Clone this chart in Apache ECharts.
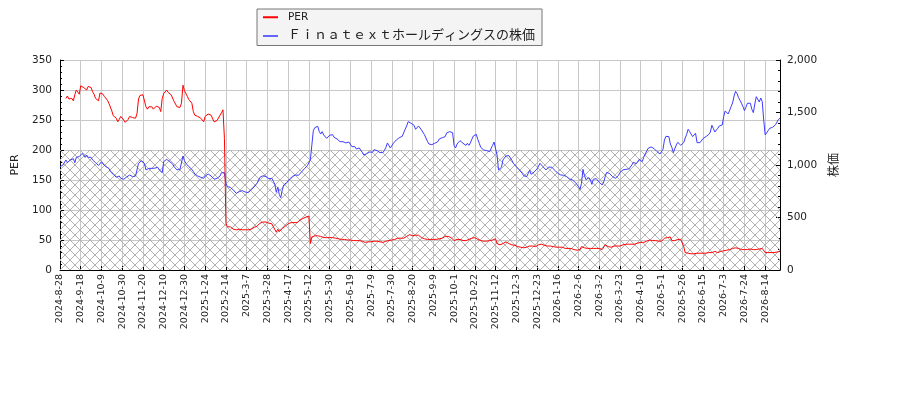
<!DOCTYPE html>
<html>
<head>
<meta charset="utf-8">
<script src="https://cdn.jsdelivr.net/npm/echarts@6/dist/echarts.min.js"></script>
<style>
  html, body { margin: 0; padding: 0; background: #fff; }
  #chart { width: 900px; height: 400px; }
</style>
</head>
<body>
<div id="chart"></div>
<script>
// 日付ラベル（14営業日ごと）
var tickLabels = [
  '2024-8-28', '2024-9-18', '2024-10-9', '2024-10-30', '2024-11-20', '2024-12-10', '2024-12-30',
  '2025-1-24', '2025-2-14', '2025-3-7', '2025-3-28', '2025-4-17', '2025-5-12', '2025-5-30',
  '2025-6-19', '2025-7-9', '2025-7-30', '2025-8-20', '2025-9-9', '2025-10-1', '2025-10-22',
  '2025-11-12', '2025-12-3', '2025-12-23', '2026-1-16', '2026-2-6', '2026-3-2', '2026-3-23',
  '2026-4-10', '2026-5-1', '2026-5-26', '2026-6-15', '2026-7-3', '2026-7-24', '2026-8-14'
];
var tickStep = 14;

var perName = 'PER';
var priceName = 'Ｆｉｎａｔｅｘｔホールディングスの株価';

// PER（左軸）
var per = [
  null, null, null, null, 286, 290, 285, 285, 286, 282,
  292, 300, 297, 293, 307, 308, 304, 302, 300, 306,
  308, 304, 297, 293, 286, 283, 282, 295, 296, 293,
  289, 286, 283, 278, 275, 265, 257, 256, 253, 247,
  251, 256, 253, 250, 246, 249, 251, 256, 257, 254,
  256, 253, 261, 285, 291, 293, 292, 293, 272, 268,
  272, 269, 272, 268, 270, 273, 275, 271, 264, 286,
  294, 297, 300, 296, 293, 292, 289, 281, 278, 272,
  273, 271, 278, 308, 299, 297, 289, 284, 281, 278,
  264, 258, 256, 256, 256, 253, 251, 247, 256, 258,
  260, 259, 258, 256, 247, 250, 249, 250, 258, 262,
  267, 219, 78, 72, 71, 72, 69, 68, 67, 67,
  67, 68, 67,
  67, 66, 67, 66, 67, 68, 68, 69, 71, 72,
  73, 75, 78, 80, 80, 81, 80, 79, 78, 75,
  77, 72, 69, 63, 68, 64, 67, 69, 72, 73,
  75, 77, 78, 79, 79, 79, 79, 79, 81, 83,
  84, 86, 86, 88, 89, 90, 44, 55, 58, 57,
  58, 57, 56, 56, 56, 54, 56, 54, 56, 54,
  54, 54, 53, 53, 52, 52, 52, 51, 51, 51,
  51, 50, 50, 50, 50, 49, 49, 49, 49, 49,
  48, 48, 47, 46, 47, 47, 47, 47, 47, 48,
  48, 48, 48, 47, 47, 46, 47, 48, 49, 49,
  49, 50, 51, 51, 52, 53, 53, 53, 53, 53,
  54, 56, 58, 59, 58, 57, 58, 58, 57, 58,
  57, 54, 53, 52, 50, 51, 50, 51, 51, 51,
  53, 51, 53, 52, 53, 53, 54, 56, 57, 56,
  57, 54, 53, 49, 50, 51, 50, 51, 50, 49,
  50, 49, 51, 51, 52, 53, 53, 54, 53, 51,
  50, 49, 49, 48, 48, 48, 48, 49, 49, 50,
  51, 52, 44, 41, 42, 43, 44, 46, 47, 46,
  44, 43, 42, 42, 41, 40, 39, 39, 38, 38,
  37, 37, 38, 39, 40, 39, 40, 39, 39, 40,
  42, 42, 43, 41, 41, 40, 40, 40, 40, 40,
  39, 38, 38, 38, 38, 38, 38, 37, 36, 36,
  36, 36, 36, 35, 34, 34, 33, 32, 34, 39,
  39, 37, 34, 36, 37, 36, 34, 36, 36, 36, 36,
  36,
  35, 34, 37, 42, 40, 39, 38, 38, 39, 40,
  39, 40, 41, 40, 41, 42, 43, 43, 42, 43,
  44, 43, 42, 43, 44, 45, 46, 46, 45, 46,
  47, 48, 49, 50, 50, 49, 49, 49, 49, 48,
  47, 48, 50, 53, 54, 54, 53, 55, 49, 48,
  49, 51, 51, 51, 51, 50, 39, 29, 29, 28,
  28, 27, 27, 27, 28, 28, 27, 28, 28, 28,
  28, 28, 29, 29, 29, 29, 31, 31, 29, 29,
  31, 31, 31, 32, 32, 33, 33, 34, 34, 36,
  37, 37, 36, 36, 34, 34, 34, 34, 34, 34,
  35, 35, 34, 34, 34, 34, 34, 35, 34, 36,
  33, 29, 29, 29, 29, 29, 29, 29, 29, 30,
  31, 31
];

// 株価（右軸）
var price = [
  984, 968, 1000, 1016, 1048, 1022, 1040, 1048, 1054, 1060,
  1022, 1073, 1064, 1080, 1086, 1111, 1095, 1073, 1095, 1073,
  1064, 1073, 1048, 1041, 1022, 1010, 995, 991, 1032, 1010,
  1000, 984, 968, 968, 937, 921, 910, 895, 883, 889,
  895, 873, 883, 864, 883, 886, 889, 905, 895, 889,
  905, 895, 905, 1016, 1032, 1041, 1022, 1016, 953, 953,
  968, 959, 968, 959, 970, 984, 978, 953, 968, 927,
  1032, 1048, 1054, 1054, 1032, 1041, 1010, 984, 968, 953,
  946, 959, 953, 1086, 1041, 1016, 1000, 984, 984, 959,
  937, 914, 895, 895, 889, 883, 889, 873, 895, 905,
  914, 905, 895, 889, 864, 873, 873, 883, 895, 927,
  921, 927, 826, 794, 787, 787, 768, 762, 756, 730,
  737, 746, 750,
  756, 737, 743, 756, 737, 740, 762, 781, 790, 803,
  826, 857, 883, 902, 898, 889, 889, 889, 870, 857,
  873, 845, 816, 740, 790, 720, 688, 760, 810, 826,
  832, 851, 867, 883, 892, 898, 905, 895, 902, 914,
  933, 950, 965, 978, 994, 1006, 1048, 1191, 1327, 1356,
  1365, 1368, 1318, 1295, 1318, 1286, 1276, 1254, 1270, 1283,
  1302, 1289, 1264, 1276, 1248, 1232, 1222, 1213, 1222, 1207,
  1210, 1216, 1219, 1200, 1175, 1159, 1175, 1152, 1165, 1162,
  1143, 1121, 1095, 1089, 1108, 1118, 1124, 1115, 1121, 1146,
  1152, 1137, 1127, 1118, 1111, 1118, 1140, 1168, 1210, 1191,
  1162, 1178, 1207, 1222, 1238, 1251, 1260, 1267, 1273, 1292,
  1340, 1372, 1413, 1413, 1397, 1410, 1378, 1340, 1346, 1372,
  1372, 1334, 1318, 1289, 1257, 1226, 1200, 1184, 1194, 1200,
  1207, 1213, 1222, 1248, 1248, 1260, 1267, 1270, 1305, 1324,
  1318, 1318, 1308, 1187, 1162, 1200, 1216, 1232, 1219, 1207,
  1222, 1187, 1207, 1187, 1210, 1245, 1276, 1289, 1292, 1245,
  1207, 1168, 1149, 1143, 1140, 1137, 1134, 1127, 1143, 1187,
  1219, 1238, 1095, 953, 943, 978, 1048, 1064, 1086, 1073,
  1089, 1073, 1045, 1016, 997, 984, 975, 953, 937, 921,
  898, 880, 889, 918, 950, 911, 895, 933, 943, 962,
  978, 1016, 1000, 984, 978, 953, 968, 981, 972, 978,
  965, 950, 937, 921, 914, 905, 895, 902, 898, 889,
  876, 867, 870, 857, 857, 832, 813, 794, 768, 826,
  959, 898, 860, 841, 880, 857, 816, 864, 864, 870, 851,
  835,
  819, 810, 838, 889, 930, 927, 918, 905, 889, 880,
  873, 883, 902, 930, 943, 953, 956, 959, 968, 962,
  953, 1000, 1026, 1016, 1013, 1032, 1054, 1048, 1032, 1073,
  1105, 1124, 1159, 1172, 1172, 1165, 1156, 1140, 1127, 1111,
  1105, 1115, 1149, 1238, 1273, 1276, 1270, 1200, 1168, 1118,
  1127, 1191, 1216, 1213, 1188, 1191, 1213, 1257, 1292, 1340,
  1318, 1327, 1270, 1260, 1302, 1213, 1194, 1213, 1232, 1251,
  1238, 1270, 1283, 1292, 1314, 1378, 1349, 1314, 1302, 1349,
  1372, 1365, 1381, 1461, 1515, 1515, 1486, 1505, 1556, 1591,
  1657, 1702, 1680, 1642, 1616, 1588, 1556, 1518, 1550, 1588,
  1588, 1588, 1530, 1499, 1581, 1651, 1638, 1600, 1638, 1603,
  1429, 1286, 1292, 1327, 1349, 1362, 1359, 1372, 1384, 1397,
  1435, 1445
];

// 網掛け範囲（PER 0〜200）
var hatchTop = 200;

var fontFamily = "'DejaVu Sans', 'Noto Sans CJK JP', sans-serif";

function hatchPattern() {
  var c = document.createElement('canvas');
  c.width = 10;
  c.height = 10;
  var ctx = c.getContext('2d');
  ctx.strokeStyle = '#b2b2b2';
  ctx.lineWidth = 1;
  ctx.beginPath();
  ctx.moveTo(0, 0); ctx.lineTo(10, 10);
  ctx.moveTo(10, 0); ctx.lineTo(0, 10);
  ctx.stroke();
  return c;
}

function pairs(arr) {
  return arr.map(function (v, i) { return [i, v]; });
}

var option = {
  animation: false,
  backgroundColor: '#fff',
  textStyle: { fontFamily: fontFamily },
  grid: { left: 60, right: 120, top: 60, bottom: 130, outerBoundsMode: 'none' },
  legend: {
    orient: 'vertical',
    left: 257,
    top: 9,
    backgroundColor: '#f4f4f4',
    borderColor: '#777',
    borderWidth: 1,
    padding: [3, 7, 3, 6],
    itemGap: 7,
    itemWidth: 15,
    itemHeight: 2,
    textStyle: {
      color: '#222',
      fontFamily: fontFamily,
      rich: {
        p: { fontSize: 10.5, lineHeight: 14, padding: [0, 0, 0, 5], fontFamily: fontFamily, color: '#222' },
        j: { fontSize: 13, lineHeight: 14, padding: [0, 0, 0, 5], fontFamily: fontFamily, color: '#222' }
      }
    },
    formatter: function (n) {
      return n === perName ? '{p|' + n + '}' : '{j|' + n + '}';
    },
    data: [
      { name: perName, icon: 'rect', itemStyle: { color: '#ff0000' } },
      { name: priceName, icon: 'rect', itemStyle: { color: '#6464ff' } }
    ]
  },
  xAxis: {
    type: 'value',
    min: 0,
    max: price.length - 1,
    interval: tickStep,
    axisLine: { lineStyle: { color: '#000', width: 1 } },
    axisTick: { inside: true, length: 4, lineStyle: { color: '#000' } },
    axisLabel: {
      rotate: 90,
      margin: 4,
      fontSize: 9.5,
      color: '#222',
      formatter: function (v) {
        var k = v / tickStep;
        return (k % 1 === 0 && tickLabels[k]) ? tickLabels[k] : '';
      }
    },
    splitLine: { show: true, lineStyle: { color: '#c8c8c8', width: 1 } }
  },
  yAxis: [
    {
      type: 'value',
      position: 'left',
      min: 0,
      max: 350,
      interval: 50,
      name: 'PER',
      nameLocation: 'middle',
      nameRotate: 90,
      nameGap: 34,
      nameTextStyle: { fontSize: 11, color: '#222' },
      axisLine: { show: true, lineStyle: { color: '#000', width: 1 } },
      axisTick: { show: true, inside: true, length: 4, lineStyle: { color: '#000' } },
      minorTick: { show: true, splitNumber: 5, length: 2, lineStyle: { color: '#000' } },
      axisLabel: { fontSize: 10.5, color: '#222', margin: 8 },
      splitLine: { show: true, lineStyle: { color: '#c8c8c8', width: 1 } }
    },
    {
      type: 'value',
      position: 'right',
      min: 0,
      max: 2000,
      interval: 500,
      name: '株価',
      nameLocation: 'middle',
      nameRotate: 90,
      nameGap: 49,
      nameTextStyle: { fontSize: 12, color: '#222' },
      axisLine: { show: true, lineStyle: { color: '#000', width: 1 } },
      axisTick: { show: true, inside: true, length: 4, lineStyle: { color: '#000' } },
      minorTick: { show: true, splitNumber: 5, length: 2, lineStyle: { color: '#000' } },
      axisLabel: { fontSize: 10.5, color: '#222', margin: 7 },
      splitLine: { show: false }
    }
  ],
  series: [
    {
      name: perName,
      type: 'line',
      yAxisIndex: 0,
      data: pairs(per),
      symbol: 'none',
      showSymbol: false,
      z: 3,
      lineStyle: { color: '#ff0000', width: 1 },
      itemStyle: { color: '#ff0000' },
      markArea: {
        silent: true,
        itemStyle: { color: { image: hatchPattern(), repeat: 'repeat' }, opacity: 1 },
        data: [[{ yAxis: 0 }, { yAxis: hatchTop }]]
      }
    },
    {
      name: priceName,
      type: 'line',
      yAxisIndex: 1,
      data: pairs(price),
      symbol: 'none',
      showSymbol: false,
      z: 2,
      lineStyle: { color: '#3c3cff', width: 1 },
      itemStyle: { color: '#3c3cff' }
    }
  ]
};

var myChart = echarts.init(document.getElementById('chart'));
myChart.setOption(option);
</script>
</body>
</html>
